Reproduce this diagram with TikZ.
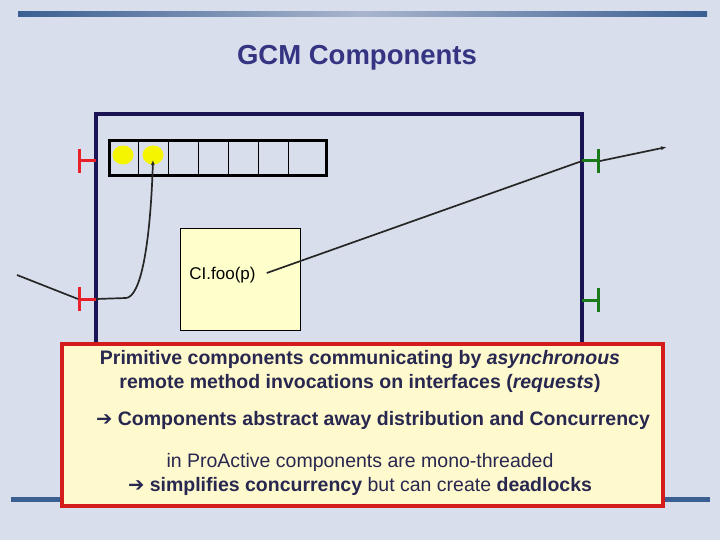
\documentclass[tikz,border=0pt]{standalone}
\usepackage{fontspec}
\setmainfont{Liberation Sans}
\newfontfamily\symbfont{DejaVu Sans}
\usepackage{xcolor}
\usetikzlibrary{arrows.meta,shapes.geometric,positioning,calc}

\definecolor{slidebg}{HTML}{D9DEEC}
\definecolor{barcol}{HTML}{3A5F92}
\definecolor{barlight}{HTML}{A9B5CD}
\definecolor{titlecol}{HTML}{343482}
\definecolor{compcol}{HTML}{1B1454}
\definecolor{notefill}{HTML}{FFF9CE}
\definecolor{boxfill}{HTML}{FFFFCC}
\definecolor{noteborder}{HTML}{D41C1C}
\definecolor{notetext}{HTML}{27274F}
\definecolor{itfred}{HTML}{E8202A}
\definecolor{itfgreen}{HTML}{1A7A1A}
\definecolor{reqyellow}{HTML}{F5F500}

\newcommand{\rarr}{{\symbfont\bfseries\char"2794}}

\tikzset{
  srvitf/.style={itfred,line width=3pt,-{Bar[width=24pt,line width=3pt]}},
  cliitf/.style={itfgreen,line width=3pt,-{Bar[width=24pt,line width=3pt]}},
  wire/.style={black!85,line width=1.7pt},
  request/.style={ellipse,fill=reqyellow,minimum width=21pt,minimum height=19pt,inner sep=0pt},
  notetxt/.style={text=notetext,font=\fontsize{19.5}{24}\selectfont,align=center,inner sep=0pt}
}

\begin{document}
\begin{tikzpicture}[x=1pt,y=-1pt]
      \useasboundingbox (0,0) rectangle (720,540);
      \fill[slidebg] (0,0) rectangle (720,540);

      % slide bars
      \shade[left color=barcol,right color=barcol,middle color=barlight] (18,12) rectangle (707,17);
      \fill[barcol] (11,497) rectangle (710,502);

      \node[text=titlecol,font=\fontsize{27.5}{30}\selectfont\bfseries] (title) at (357,58) {GCM Components};

      % the composite
      \draw[compcol,line width=3.5pt] (96,420) -- (96,114) -- (582,114) -- (582,420);

      % request queue
      \node[draw=black,line width=3pt,minimum width=217pt,minimum height=35pt,inner sep=0pt,anchor=north west] (queue) at (108,139) {};
      \foreach \i in {1,...,6}
        \draw[black,line width=1pt] ($(queue.north west)+(30*\i,0)$) -- ($(queue.south west)+(30*\i,0)$);
      \node[request] (req1) at (123,155) {};
      \node[request] (req2) at (153,155) {};

      % content
      \node[draw=black,fill=boxfill,line width=1pt,minimum width=120pt,minimum height=102pt,anchor=north west,inner sep=0pt] (prim) at (180,228) {};
      \node[font=\fontsize{17}{19}\selectfont,inner sep=1pt] (call) at (222.5,275) {CI.foo(p)};

      % interfaces
      \coordinate (srvA) at (96,161);
      \coordinate (srvB) at (96,299);
      \coordinate (cliA) at (582,161);
      \coordinate (cliB) at (582,300);
      \draw[srvitf] (srvA) -- ++(-18,0) coordinate (srvAtip);
      \draw[srvitf] (srvB) -- ++(-18,0) coordinate (srvBtip);
      \draw[cliitf] (cliA) -- ++(18,0) coordinate (cliAtip);
      \draw[cliitf] (cliB) -- ++(18,0) coordinate (cliBtip);

      % connections
      \coordinate (callin) at (17,275);
      \coordinate (callout) at (667,147);
      \draw[wire] (callin) -- (srvBtip);
      \draw[wire,-{Latex[length=5pt,width=4pt]}] (srvB) -- (126,298) .. controls (140,297) and (150,250) .. ($(req2.center)+(0,5)$);
      \draw[wire] (call.east) ++(10,-2) -- (cliA);
      \draw[wire,-{Latex[length=6pt,width=4pt]}] (cliAtip) -- (callout);

      % note
      \node[draw=noteborder,fill=notefill,line width=3.5pt,minimum width=601pt,minimum height=162pt,inner sep=0pt,anchor=north west] (note) at (60,342) {};
      \node[notetxt,font=\fontsize{19.5}{24}\selectfont\bfseries] (msgA) at (360,371) {Primitive components communicating by \textit{asynchronous}\\remote method invocations on interfaces (\textit{requests})};
      \node[notetxt,font=\fontsize{19.5}{24}\selectfont\bfseries] (msgB) at (373,420) {\rarr\ Components abstract away distribution and Concurrency};
      \node[notetxt] (msgC) at (360,474) {in ProActive components are mono-threaded\\\rarr\ \textbf{simplifies concurrency} but can create \textbf{deadlocks}};
\end{tikzpicture}
\end{document}
